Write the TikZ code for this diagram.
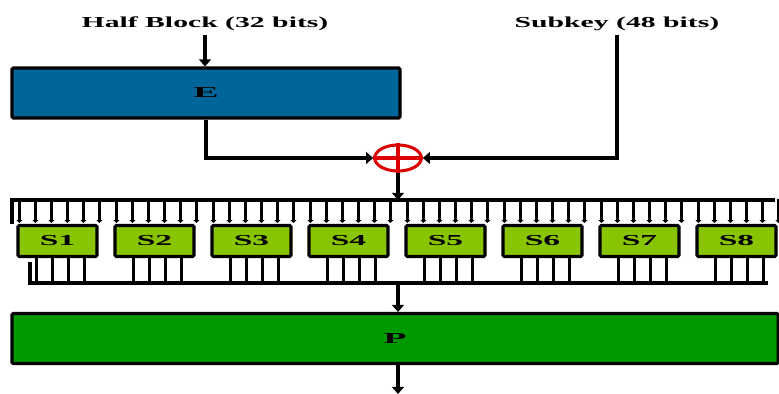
\documentclass[tikz,border=0pt]{standalone}
\usepackage{fontspec}
\setmainfont{Liberation Serif}
\usetikzlibrary{arrows.meta,shapes.geometric}

\definecolor{eblue}{RGB}{0,102,153}
\definecolor{pgreen}{RGB}{0,153,0}
\definecolor{sgreen}{RGB}{136,196,0}
\definecolor{xred}{RGB}{220,0,0}
% squeezed bold text, as in the picture
\newcommand{\wide}[2][1.7]{\scalebox{#1}[1]{\fontsize{13}{15}\selectfont\bfseries #2}}

\begin{document}
\begin{tikzpicture}[x=0.03cm,y=-0.03cm,
        blk/.style={draw,line width=2.6pt,rounded corners=1pt,inner sep=0pt},
        wire/.style={line width=2.6pt},
        tip/.style={-{Triangle[width=10pt,length=6pt]}},
        pin/.style={line width=3pt,-{Triangle[width=5pt,length=2.5pt]}}]
\useasboundingbox (0,0) rectangle (779,394);
% labels at the top
\node (half) at (205,24) {\wide[1.95]{Half Block (32 bits)}};
\node (subkey) at (617,24) {\wide[1.95]{Subkey (48 bits)}};
% expansion, xor
\node[blk,fill=eblue,minimum width=11.64cm,minimum height=1.5cm] (E) at (206,93) {\wide[2.5]{E}};
\node[draw=xred,line width=2.6pt,ellipse,minimum width=1.4cm,minimum height=0.78cm,inner sep=0pt] (xor) at (398,158) {};
\draw[xred,line width=2.6pt] (xor.north) -- (xor.south) (xor.west) -- (xor.east);
\draw[wire,tip] (half.south) -- (half.south |- E.north);
\draw[wire,tip] (E.south) |- (xor.west);
\draw[wire,tip] (subkey.south) |- (xor.east);
% busses
\coordinate (busin) at (398,200);
\coordinate (busout) at (398,283);
\draw[wire,tip] (xor.south) -- (busin);
\draw[wire] (12,224) -- (12,200) -- (775,200);
\draw[wire] (30,262) -- (30,283) -- (768,283);
% s-boxes
\foreach \i in {1,...,8}{
    \node[blk,fill=sgreen,minimum width=2.37cm,minimum height=0.93cm] (S\i) at ({57.5+97*(\i-1)},241) {\wide[2.2]{S\i}};
    \foreach \o in {3,19,35,51,67,83}
        \draw[pin] (S\i.north west) ++(\o,-25) -- ++(0,24);
    \foreach \o in {20,36,52,68}
        \draw[wire,line width=3pt] (S\i.south west) ++(\o,0) -- ++(0,26);
}
% permutation
\node[blk,fill=pgreen,minimum width=22.98cm,minimum height=1.5cm] (P) at (395,338.5) {\wide[2.5]{P}};
\coordinate (out) at (398,394);
\draw[wire,tip] (busout) -- (busout |- P.north);
\draw[wire,tip] (P.south -| out) -- (out);
\end{tikzpicture}
\end{document}
